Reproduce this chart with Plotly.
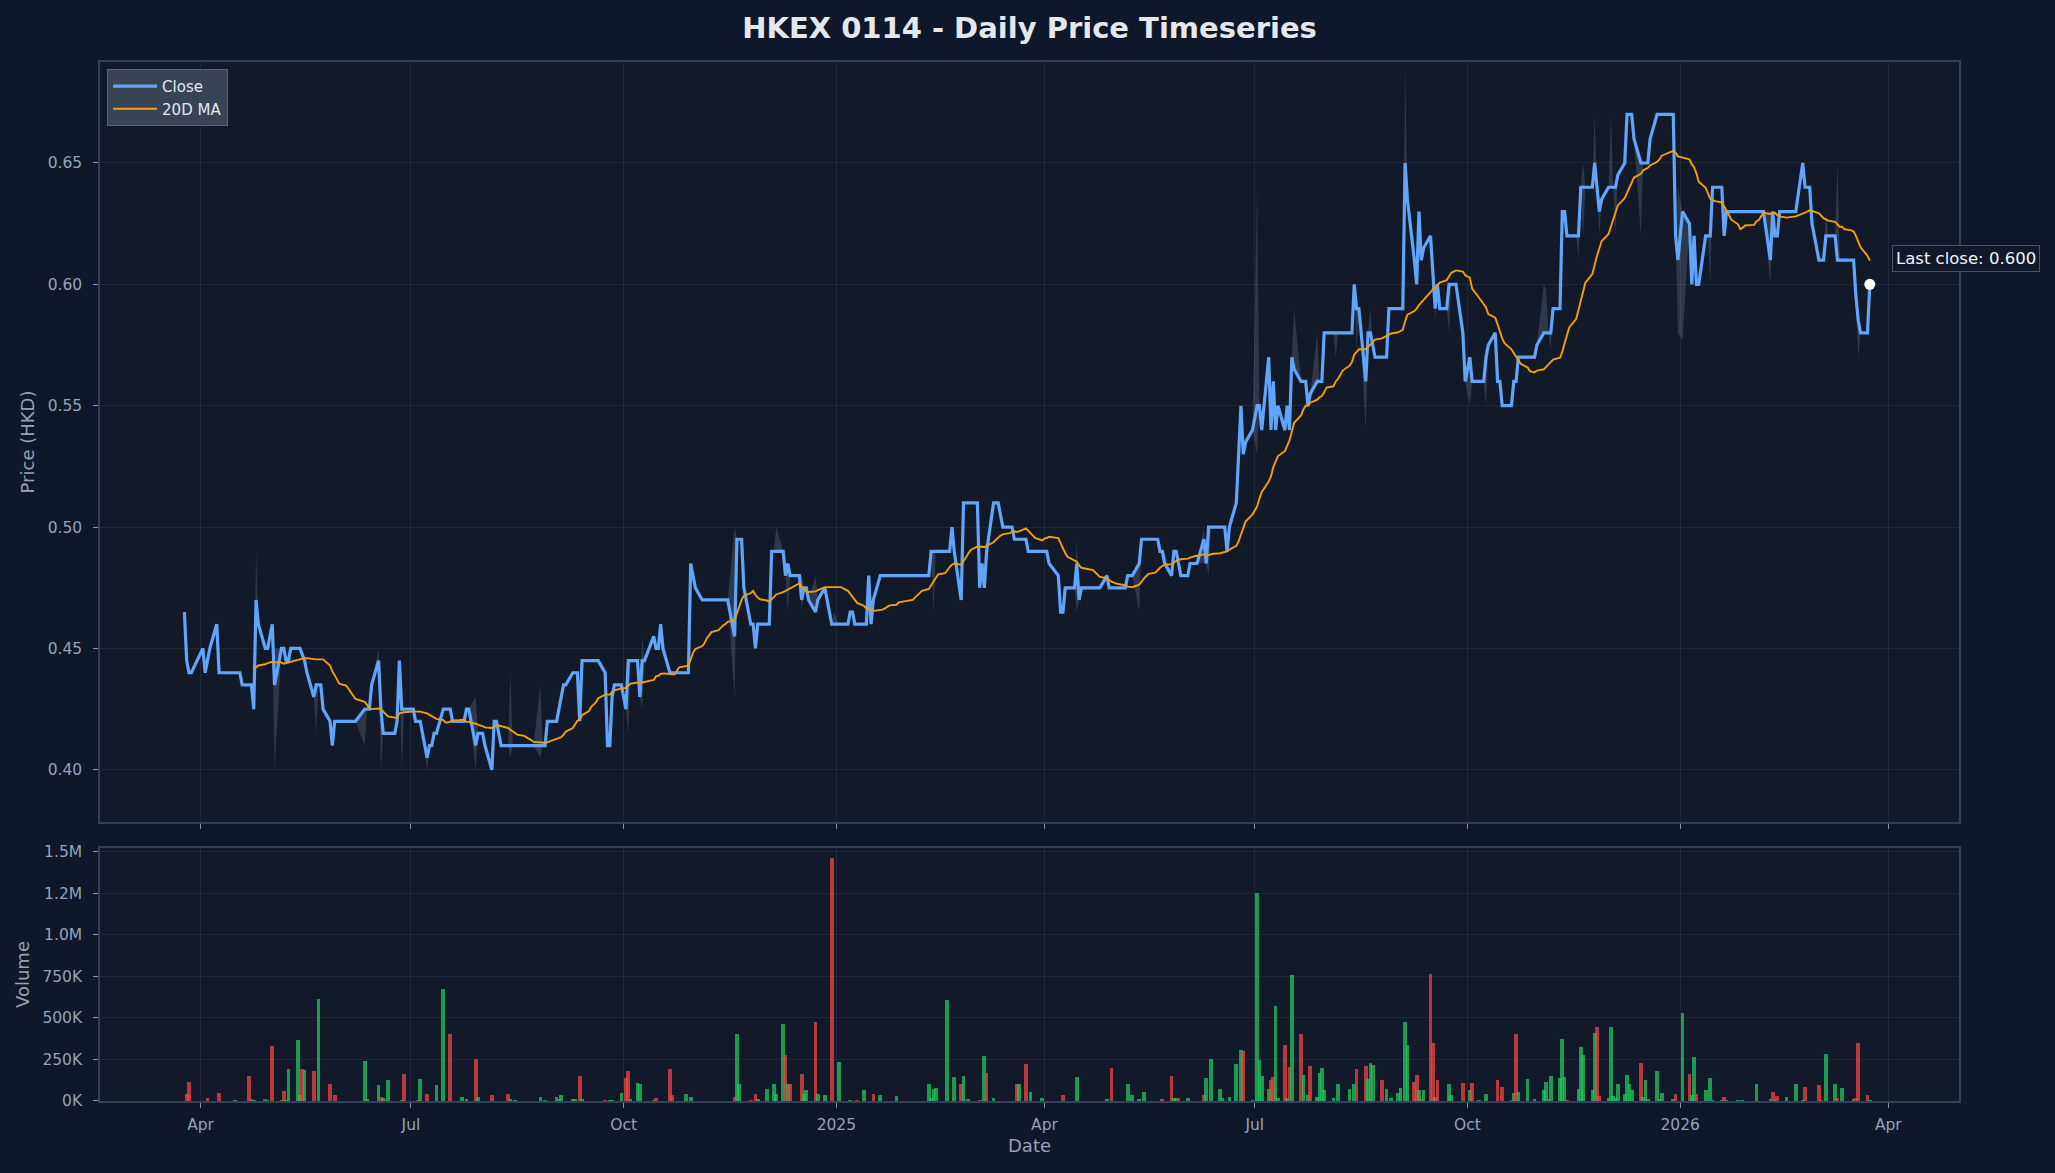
import pandas as pd
import numpy as np
import plotly.graph_objects as go

# ---------------- data ----------------
START_DATE = "2024-03-25"
END_DATE = "2026-03-24"

# exchange holidays (no trading rows)
HOLIDAYS = [
    "2024-03-29", "2024-04-01", "2024-04-04", "2024-05-01", "2024-05-15", "2024-06-10", "2024-07-01",
    "2024-09-18", "2024-10-01", "2024-10-11", "2024-12-25", "2024-12-26",
    "2025-01-01", "2025-01-29", "2025-01-30", "2025-01-31", "2025-04-04", "2025-04-18", "2025-04-21",
    "2025-05-01", "2025-05-05", "2025-07-01", "2025-10-01", "2025-10-07", "2025-10-29", "2025-12-25",
    "2025-12-26", "2026-01-01", "2026-02-17", "2026-02-18", "2026-02-19",
]

# days on which the close changed, and the new close (held until next change)
CLOSE_DATES = [
    "2024-03-25", "2024-03-26", "2024-03-27", "2024-04-02", "2024-04-03", "2024-04-05", "2024-04-08",
    "2024-04-09", "2024-04-19", "2024-04-24", "2024-04-25", "2024-04-26", "2024-04-29", "2024-05-02",
    "2024-05-03", "2024-05-06", "2024-05-08", "2024-05-10", "2024-05-15", "2024-05-17", "2024-05-20",
    "2024-05-21", "2024-05-24", "2024-05-27", "2024-05-28", "2024-05-29", "2024-06-11", "2024-06-14",
    "2024-06-17", "2024-06-18", "2024-06-19", "2024-06-25", "2024-06-26", "2024-06-27", "2024-07-03",
    "2024-07-08", "2024-07-09", "2024-07-11", "2024-07-15", "2024-07-19", "2024-07-25", "2024-07-29",
    "2024-07-30", "2024-08-02", "2024-08-05", "2024-08-06", "2024-08-08", "2024-08-09", "2024-08-29",
    "2024-09-03", "2024-09-04", "2024-09-05", "2024-09-09", "2024-09-12", "2024-09-13", "2024-09-23",
    "2024-09-24", "2024-09-26", "2024-09-27", "2024-10-02", "2024-10-03", "2024-10-08", "2024-10-09",
    "2024-10-11", "2024-10-14", "2024-10-15", "2024-10-17", "2024-10-18", "2024-10-21", "2024-10-30",
    "2024-10-31", "2024-11-01", "2024-11-04", "2024-11-18", "2024-11-19", "2024-11-22", "2024-11-25",
    "2024-11-27", "2024-11-28", "2024-12-04", "2024-12-10", "2024-12-11", "2024-12-12", "2024-12-17",
    "2024-12-18", "2024-12-20", "2024-12-23", "2024-12-24", "2024-12-27", "2024-12-30",
    "2025-01-07", "2025-01-09", "2025-01-15", "2025-01-16", "2025-01-17", "2025-01-20", "2025-02-11",
    "2025-02-20", "2025-02-21", "2025-02-24", "2025-02-25", "2025-03-04", "2025-03-05", "2025-03-06",
    "2025-03-07", "2025-03-10", "2025-03-13", "2025-03-14", "2025-03-19", "2025-03-25", "2025-04-03",
    "2025-04-07", "2025-04-08", "2025-04-10", "2025-04-15", "2025-04-16", "2025-04-17", "2025-04-28",
    "2025-04-29", "2025-05-07", "2025-05-12", "2025-05-13", "2025-05-21", "2025-05-23", "2025-05-26",
    "2025-05-27", "2025-05-29", "2025-05-30", "2025-06-03", "2025-06-09", "2025-06-10", "2025-06-11",
    "2025-06-19", "2025-06-20", "2025-06-23", "2025-06-24", "2025-06-25", "2025-06-26", "2025-06-27",
    "2025-06-30", "2025-07-02", "2025-07-04", "2025-07-07", "2025-07-08", "2025-07-09", "2025-07-10",
    "2025-07-11", "2025-07-14", "2025-07-15", "2025-07-16", "2025-07-17", "2025-07-18", "2025-07-21",
    "2025-07-24", "2025-07-25", "2025-07-28", "2025-07-31", "2025-08-13", "2025-08-14", "2025-08-18",
    "2025-08-19", "2025-08-21", "2025-08-22", "2025-08-28", "2025-09-04", "2025-09-05", "2025-09-08",
    "2025-09-09", "2025-09-10", "2025-09-11", "2025-09-12", "2025-09-15", "2025-09-16", "2025-09-17",
    "2025-09-18", "2025-09-19", "2025-09-23", "2025-09-29", "2025-09-30", "2025-10-02", "2025-10-03",
    "2025-10-09", "2025-10-10", "2025-10-13", "2025-10-14", "2025-10-16", "2025-10-21", "2025-10-23",
    "2025-10-31", "2025-11-03", "2025-11-07", "2025-11-11", "2025-11-13", "2025-11-19", "2025-11-25",
    "2025-11-26", "2025-11-27", "2025-11-28", "2025-12-01", "2025-12-05", "2025-12-08", "2025-12-09",
    "2025-12-12", "2025-12-15", "2025-12-19", "2025-12-22", "2025-12-30", "2025-12-31",
    "2026-01-02", "2026-01-05", "2026-01-06", "2026-01-07", "2026-01-08", "2026-01-12", "2026-01-15",
    "2026-01-20", "2026-01-21", "2026-02-09", "2026-02-10", "2026-02-11", "2026-02-13", "2026-02-23",
    "2026-02-24", "2026-02-27", "2026-03-02", "2026-03-05", "2026-03-10", "2026-03-18", "2026-03-19",
    "2026-03-20", "2026-03-24",
]
CLOSE_VALUES = [
    0.465, 0.445, 0.44, 0.45, 0.44, 0.45, 0.46,
    0.44, 0.435, 0.425, 0.47, 0.46, 0.45, 0.46,
    0.435, 0.45, 0.445, 0.45, 0.445, 0.44, 0.43,
    0.435, 0.425, 0.42, 0.41, 0.42, 0.425, 0.435,
    0.445, 0.425, 0.415, 0.42, 0.445, 0.425, 0.42,
    0.405, 0.41, 0.415, 0.425, 0.42, 0.425, 0.41,
    0.415, 0.41, 0.40, 0.42, 0.415, 0.41, 0.42,
    0.425, 0.43, 0.435, 0.44, 0.42, 0.445, 0.44,
    0.41, 0.43, 0.435, 0.425, 0.445, 0.43, 0.445,
    0.45, 0.455, 0.45, 0.46, 0.45, 0.44, 0.485,
    0.48, 0.475, 0.47, 0.455, 0.495, 0.475, 0.46,
    0.45, 0.46, 0.49, 0.48, 0.485, 0.48, 0.47,
    0.475, 0.47, 0.465, 0.47, 0.475, 0.46,
    0.465, 0.46, 0.48, 0.46, 0.47, 0.48, 0.49,
    0.50, 0.49, 0.47, 0.51, 0.475, 0.485, 0.475,
    0.49, 0.51, 0.505, 0.50, 0.495, 0.49, 0.485,
    0.48, 0.465, 0.475, 0.485, 0.47, 0.475, 0.48,
    0.475, 0.48, 0.485, 0.495, 0.49, 0.485, 0.48,
    0.49, 0.485, 0.48, 0.485, 0.495, 0.485, 0.50,
    0.49, 0.50, 0.51, 0.53, 0.55, 0.53, 0.535,
    0.54, 0.55, 0.54, 0.57, 0.54, 0.56, 0.54,
    0.55, 0.54, 0.55, 0.54, 0.57, 0.565, 0.56,
    0.55, 0.555, 0.56, 0.58, 0.60, 0.59, 0.56,
    0.58, 0.575, 0.57, 0.59, 0.65, 0.635, 0.61,
    0.60, 0.63, 0.61, 0.615, 0.62, 0.605, 0.59,
    0.60, 0.59, 0.60, 0.58, 0.56, 0.57, 0.56,
    0.57, 0.575, 0.58, 0.56, 0.55, 0.56, 0.57,
    0.575, 0.58, 0.59, 0.63, 0.62, 0.64, 0.65,
    0.64, 0.63, 0.635, 0.64, 0.645, 0.65, 0.67,
    0.66, 0.65, 0.66, 0.67, 0.62, 0.61,
    0.63, 0.625, 0.60, 0.62, 0.60, 0.62, 0.64,
    0.62, 0.63, 0.61, 0.63, 0.62, 0.63, 0.65,
    0.64, 0.625, 0.61, 0.62, 0.61, 0.595, 0.585,
    0.58, 0.60,
]

# intraday range spikes (days where low/high differ visibly from close)
BAND_DATES = [
    "2024-04-25", "2024-05-03", "2024-05-21", "2024-06-11", "2024-06-17", "2024-06-18", "2024-06-27",
    "2024-07-08", "2024-07-29", "2024-08-13", "2024-08-26", "2024-10-03", "2024-10-09", "2024-11-18",
    "2024-12-06", "2024-12-11", "2024-12-17", "2024-12-23", "2024-12-31", "2025-02-12", "2025-04-15",
    "2025-05-12", "2025-05-23", "2025-06-09", "2025-06-11", "2025-07-02", "2025-07-18", "2025-07-28",
    "2025-08-05", "2025-08-14", "2025-08-18", "2025-08-20", "2025-09-04", "2025-09-17", "2025-09-23",
    "2025-10-02", "2025-10-09", "2025-11-03", "2025-11-04", "2025-11-06", "2025-11-18", "2025-11-20",
    "2025-11-25", "2025-11-27", "2025-12-02", "2025-12-04", "2025-12-15", "2025-12-31", "2026-01-02",
    "2026-01-14", "2026-02-09", "2026-03-05", "2026-03-10", "2026-03-19",
]
BAND_LOW = [
    0.47, 0.40, 0.415, 0.41, 0.445, 0.40, 0.40,
    0.40, 0.40, 0.405, 0.405, 0.415, 0.425, 0.43,
    0.49, 0.465, 0.465, 0.465, 0.46, 0.465, 0.465,
    0.465, 0.485, 0.485, 0.48, 0.53, 0.565, 0.56,
    0.57, 0.573, 0.54, 0.58, 0.65, 0.585, 0.58,
    0.55, 0.55, 0.58, 0.58, 0.573, 0.61, 0.62,
    0.65, 0.62, 0.64, 0.62, 0.62, 0.58, 0.577,
    0.60, 0.60, 0.62, 0.61, 0.57,
]
BAND_HIGH = [
    0.49, 0.45, 0.435, 0.425, 0.45, 0.425, 0.425,
    0.405, 0.43, 0.44, 0.435, 0.425, 0.455, 0.50,
    0.50, 0.485, 0.48, 0.48, 0.465, 0.49, 0.495,
    0.485, 0.49, 0.50, 0.50, 0.64, 0.59, 0.58,
    0.58, 0.59, 0.56, 0.59, 0.69, 0.59, 0.60,
    0.57, 0.57, 0.60, 0.598, 0.58, 0.62, 0.65,
    0.67, 0.63, 0.67, 0.64, 0.65, 0.64, 0.63,
    0.62, 0.63, 0.63, 0.65, 0.585,
]

# daily volume (thousands of shares) and direction (1 = up/green, 0 = down/red)
VOL_DATES = [
    "2024-03-26", "2024-03-27", "2024-04-04", "2024-04-09", "2024-04-16", "2024-04-22", "2024-04-23",
    "2024-04-24", "2024-04-29", "2024-04-30", "2024-05-02", "2024-05-06", "2024-05-07", "2024-05-08",
    "2024-05-09", "2024-05-13", "2024-05-14", "2024-05-15", "2024-05-16", "2024-05-20", "2024-05-22",
    "2024-05-27", "2024-05-29", "2024-06-11", "2024-06-12", "2024-06-17", "2024-06-18", "2024-06-19",
    "2024-06-20", "2024-06-21", "2024-06-27", "2024-06-28", "2024-07-04", "2024-07-05", "2024-07-08",
    "2024-07-12", "2024-07-15", "2024-07-18", "2024-07-23", "2024-07-25", "2024-07-29", "2024-07-30",
    "2024-08-05", "2024-08-12", "2024-08-13", "2024-08-15", "2024-08-26", "2024-08-28", "2024-09-02",
    "2024-09-03", "2024-09-04", "2024-09-09", "2024-09-10", "2024-09-12", "2024-09-13", "2024-09-23",
    "2024-09-25", "2024-09-26", "2024-09-30", "2024-10-02", "2024-10-03", "2024-10-04", "2024-10-07",
    "2024-10-08", "2024-10-14", "2024-10-15", "2024-10-21", "2024-10-22", "2024-10-28", "2024-10-30",
    "2024-11-18", "2024-11-19", "2024-11-20", "2024-11-25", "2024-11-27", "2024-11-28", "2024-12-02",
    "2024-12-05", "2024-12-06", "2024-12-09", "2024-12-10", "2024-12-11", "2024-12-12", "2024-12-17",
    "2024-12-18", "2024-12-19", "2024-12-23", "2024-12-24", "2024-12-27", "2024-12-30",
    "2025-01-02", "2025-01-07", "2025-01-10", "2025-01-13", "2025-01-17", "2025-01-20", "2025-01-27",
    "2025-02-10", "2025-02-11", "2025-02-12", "2025-02-13", "2025-02-18", "2025-02-21", "2025-02-24",
    "2025-02-25", "2025-02-27", "2025-03-04", "2025-03-06", "2025-03-07", "2025-03-10", "2025-03-20",
    "2025-03-21", "2025-03-24", "2025-03-26", "2025-03-31", "2025-04-09", "2025-04-15", "2025-04-28",
    "2025-04-30", "2025-05-07", "2025-05-09", "2025-05-12", "2025-05-14", "2025-05-22", "2025-05-26",
    "2025-05-27", "2025-05-28", "2025-05-29", "2025-06-02", "2025-06-09", "2025-06-10", "2025-06-12",
    "2025-06-16", "2025-06-17", "2025-06-20", "2025-06-23", "2025-06-25", "2025-06-26", "2025-06-30",
    "2025-07-02", "2025-07-03", "2025-07-04", "2025-07-07", "2025-07-08", "2025-07-09", "2025-07-10",
    "2025-07-11", "2025-07-14", "2025-07-15", "2025-07-16", "2025-07-17", "2025-07-21", "2025-07-22",
    "2025-07-24", "2025-07-25", "2025-07-28", "2025-07-29", "2025-07-30", "2025-07-31", "2025-08-04",
    "2025-08-06", "2025-08-11", "2025-08-13", "2025-08-14", "2025-08-18", "2025-08-19", "2025-08-20",
    "2025-08-21", "2025-08-25", "2025-08-27", "2025-08-29", "2025-09-01", "2025-09-02", "2025-09-04",
    "2025-09-05", "2025-09-08", "2025-09-09", "2025-09-10", "2025-09-11", "2025-09-12", "2025-09-15",
    "2025-09-16", "2025-09-17", "2025-09-18", "2025-09-23", "2025-09-24", "2025-09-29", "2025-10-02",
    "2025-10-03", "2025-10-06", "2025-10-09", "2025-10-14", "2025-10-16", "2025-10-20", "2025-10-21",
    "2025-10-22", "2025-10-23", "2025-10-27", "2025-10-30", "2025-11-03", "2025-11-04", "2025-11-05",
    "2025-11-06", "2025-11-10", "2025-11-11", "2025-11-12", "2025-11-13", "2025-11-18", "2025-11-19",
    "2025-11-20", "2025-11-24", "2025-11-25", "2025-11-26", "2025-11-27", "2025-12-01", "2025-12-02",
    "2025-12-03", "2025-12-04", "2025-12-05", "2025-12-08", "2025-12-09", "2025-12-10", "2025-12-11",
    "2025-12-15", "2025-12-16", "2025-12-17", "2025-12-18", "2025-12-22", "2025-12-23", "2025-12-24",
    "2025-12-29", "2025-12-30", "2026-01-02", "2026-01-05", "2026-01-06", "2026-01-07", "2026-01-08",
    "2026-01-12", "2026-01-14", "2026-01-15", "2026-01-19", "2026-01-20", "2026-01-21", "2026-01-26",
    "2026-01-28", "2026-02-03", "2026-02-09", "2026-02-10", "2026-02-11", "2026-02-12", "2026-02-16",
    "2026-02-20", "2026-02-23", "2026-02-24", "2026-03-02", "2026-03-03", "2026-03-05", "2026-03-09",
    "2026-03-10", "2026-03-12", "2026-03-17", "2026-03-18", "2026-03-19", "2026-03-23", "2026-03-24",
]
VOL_K = [
    40, 110, 18, 49, 3, 146, 12,
    5, 12, 5, 329, 5, 61, 5,
    189, 366, 37, 189, 183, 177, 610,
    98, 37, 238, 12, 92, 24, 16,
    6, 122, 5, 159, 5, 128, 43,
    92, 671, 403, 24, 12, 250, 24,
    37, 43, 12, 3, 24, 3, 24,
    8, 37, 12, 12, 146, 12, 3,
    5, 5, 49, 134, 177, 12, 104,
    98, 5, 18, 189, 37, 43, 24,
    24, 403, 98, 3, 43, 12, 73,
    98, 43, 464, 274, 98, 98, 159,
    43, 67, 476, 43, 37, 1464,
    232, 6, 3, 67, 43, 37, 30,
    98, 18, 73, 79, 604, 140, 98,
    146, 12, 5, 268, 165, 18, 98,
    98, 220, 55, 18, 37, 140, 12,
    195, 98, 37, 12, 55, 12, 146,
    18, 18, 18, 18, 37, 134, 250,
    73, 18, 24, 220, 305, 299, 5,
    1250, 244, 146, 73, 122, 140, 573,
    18, 335, 18, 201, 756, 403, 152,
    37, 207, 24, 165, 195, 67, 18,
    98, 73, 98, 189, 207, 128, 226,
    213, 122, 73, 18, 49, 79, 476,
    335, 110, 152, 67, 12, 67, 762,
    348, 24, 122, 98, 37, 104, 67,
    104, 5, 43, 122, 85, 5, 49,
    403, 55, 128, 12, 67, 110, 12,
    146, 134, 372, 140, 5, 73, 323,
    274, 67, 409, 445, 30, 18, 445,
    30, 18, 98, 43, 152, 98, 67,
    226, 24, 122, 12, 177, 12, 49,
    12, 43, 525, 159, 37, 262, 43,
    67, 134, 5, 5, 24, 5, 5,
    5, 98, 12, 55, 5, 30, 24,
    98, 5, 85, 92, 5, 281, 98,
    18, 79, 12, 18, 348, 37, 5,
]
VOL_UP = [
    0, 0, 0, 0, 1, 0, 0,
    1, 0, 1, 0, 1, 0, 1,
    1, 1, 1, 0, 1, 0, 1,
    0, 0, 1, 1, 1, 0, 1,
    0, 1, 1, 0, 0, 1, 0,
    1, 1, 0, 1, 1, 0, 1,
    0, 0, 1, 1, 1, 1, 1,
    1, 1, 1, 1, 0, 1, 0,
    1, 1, 1, 0, 0, 1, 1,
    1, 1, 0, 0, 0, 1, 1,
    0, 1, 1, 0, 0, 1, 1,
    1, 1, 1, 0, 1, 0, 0,
    1, 1, 0, 1, 1, 0,
    1, 1, 0, 1, 0, 1, 1,
    1, 1, 1, 1, 1, 1, 0,
    1, 1, 0, 1, 0, 1, 0,
    1, 0, 1, 1, 0, 1, 1,
    0, 1, 1, 1, 1, 0, 0,
    1, 1, 0, 1, 0, 1, 1,
    1, 1, 1, 1, 1, 0, 1,
    1, 1, 1, 1, 0, 0, 1,
    1, 0, 1, 0, 1, 0, 1,
    1, 0, 1, 1, 1, 1, 1,
    1, 1, 1, 0, 0, 1, 1,
    1, 0, 1, 1, 1, 1, 1,
    1, 0, 0, 1, 0, 1, 0,
    0, 1, 0, 1, 1, 0, 1,
    0, 1, 1, 0, 0, 0, 1,
    0, 1, 1, 1, 1, 1, 1,
    1, 1, 1, 1, 0, 1, 1,
    1, 1, 1, 0, 0, 1, 1,
    1, 1, 1, 1, 1, 1, 1,
    0, 1, 1, 1, 1, 1, 1,
    1, 0, 1, 0, 1, 1, 0,
    1, 1, 1, 1, 0, 1, 1,
    1, 1, 1, 0, 1, 0, 1,
    1, 1, 0, 0, 0, 1, 1,
    0, 1, 1, 0, 0, 0, 1,
]

X_TICK_DATES = ["2024-04-01", "2024-07-01", "2024-10-01", "2025-01-01", "2025-04-01",
                "2025-07-01", "2025-10-01", "2026-01-01", "2026-04-01"]
X_TICK_TEXT = ["Apr", "Jul", "Oct", "2025", "Apr", "Jul", "Oct", "2026", "Apr"]
PRICE_TICKS = [0.40, 0.45, 0.50, 0.55, 0.60, 0.65]
VOL_TICKS = [0, 250000, 500000, 750000, 1000000, 1250000, 1500000]
VOL_TICK_TEXT = ["0K", "250K", "500K", "750K", "1.0M", "1.2M", "1.5M"]

# ---------------- derived series ----------------
days = pd.bdate_range(START_DATE, END_DATE, freq="C", holidays=HOLIDAYS)
close = (pd.Series(CLOSE_VALUES, index=pd.to_datetime(CLOSE_DATES))
         .reindex(days, method="ffill"))
ma20 = close.rolling(20).mean()

high = close.copy()
low = close.copy()
for d, lo, hi in zip(BAND_DATES, BAND_LOW, BAND_HIGH):
    pos = days.searchsorted(pd.Timestamp(d))
    pos = min(pos, len(days) - 1)
    high.iloc[pos] = max(hi, close.iloc[pos])
    low.iloc[pos] = min(lo, close.iloc[pos])

vol = np.array(VOL_K) * 1000
vol_colors = ["rgba(34,197,94,0.75)" if u else "rgba(239,68,68,0.75)" for u in VOL_UP]

# ---------------- styling ----------------
PAPER = "#0f172a"
PLOT = "#121a2a"
GRID = "rgba(148,163,184,0.10)"
SPINE = "#334155"
TICK = "#94a3b8"
FONT = "DejaVu Sans"
TICK_SIZE = 15.5
LABEL_SIZE = 18

fig = go.Figure()

fig.add_trace(go.Scatter(x=days, y=low, mode="lines", line=dict(width=0),
                         showlegend=False, hoverinfo="skip", xaxis="x", yaxis="y"))
fig.add_trace(go.Scatter(x=days, y=high, mode="lines", line=dict(width=0),
                         fill="tonexty", fillcolor="rgba(148,163,184,0.22)",
                         showlegend=False, hoverinfo="skip", xaxis="x", yaxis="y"))
fig.add_trace(go.Scatter(x=days, y=close, mode="lines", name="Close",
                         line=dict(color="#60a5fa", width=3.2), xaxis="x", yaxis="y"))
fig.add_trace(go.Scatter(x=days, y=ma20, mode="lines", name="20D MA",
                         line=dict(color="#f59e0b", width=1.9), xaxis="x", yaxis="y"))
fig.add_trace(go.Scatter(x=[days[-1]], y=[close.iloc[-1]], mode="markers",
                         marker=dict(color="white", size=11), showlegend=False,
                         xaxis="x", yaxis="y"))

fig.add_trace(go.Bar(x=pd.to_datetime(VOL_DATES), y=vol,
                     marker=dict(color=vol_colors, line=dict(width=0)),
                     width=1.6 * 86400000, showlegend=False, xaxis="x2", yaxis="y2"))

x_range = ["2024-02-17 12:00", "2026-05-01 14:00"]
common_x = dict(range=x_range, tickvals=X_TICK_DATES, ticktext=X_TICK_TEXT,
                showgrid=True, gridcolor=GRID, gridwidth=1,
                showline=True, linecolor=SPINE, linewidth=1.5, mirror=True,
                ticks="outside", ticklen=5, tickcolor="#8b95a7", tickwidth=1.2,
                ticklabelstandoff=4,
                tickfont=dict(family=FONT, size=TICK_SIZE, color=TICK), zeroline=False)
common_y = dict(showgrid=True, gridcolor=GRID, gridwidth=1,
                showline=True, linecolor=SPINE, linewidth=1.5, mirror=True,
                ticks="outside", ticklen=5, tickcolor="#8b95a7", tickwidth=1.2,
                ticklabelstandoff=8,
                tickfont=dict(family=FONT, size=TICK_SIZE, color=TICK), zeroline=False)

fig.update_layout(
    width=2055, height=1173,
    paper_bgcolor=PAPER, plot_bgcolor=PLOT,
    margin=dict(l=100, r=96, t=62, b=72),
    font=dict(family=FONT, color=TICK),
    title=dict(text="<b>HKEX 0114 - Daily Price Timeseries</b>", x=0.5, xref="paper",
               y=1 - 27.5 / 1173, yanchor="middle",
               font=dict(family=FONT, size=29, color="#e5e7eb")),
    bargap=0,
    xaxis=dict(domain=[0, 1], anchor="y", showticklabels=False, **common_x),
    xaxis2=dict(domain=[0, 1], anchor="y2", matches="x",
                title=dict(text="Date", font=dict(family=FONT, size=LABEL_SIZE, color=TICK), standoff=6),
                **common_x),
    yaxis=dict(domain=[0.2685, 1.0], anchor="x", range=[0.3785, 0.6916],
               tickvals=PRICE_TICKS, tickformat=".2f",
               title=dict(text="Price (HKD)", font=dict(family=FONT, size=LABEL_SIZE, color=TICK), standoff=8),
               **common_y),
    yaxis2=dict(domain=[0.0, 0.2435], anchor="x2", range=[-2000, 1521700],
                tickvals=VOL_TICKS, ticktext=VOL_TICK_TEXT,
                title=dict(text="Volume", font=dict(family=FONT, size=LABEL_SIZE, color=TICK), standoff=8),
                **common_y),
    legend=dict(x=0.0038, y=0.9933, xanchor="left", yanchor="top", traceorder="normal",
                bgcolor="rgba(60,70,88,0.92)", bordercolor="#5b6577", borderwidth=1,
                font=dict(family=FONT, size=15, color="#e5e7eb"),
                itemwidth=44, tracegroupgap=0),
    showlegend=True,
)

fig.add_annotation(x=days[-1], y=close.iloc[-1], xref="x", yref="y",
                   text=f"Last close: {close.iloc[-1]:.3f}", showarrow=False,
                   xanchor="left", yanchor="middle", xshift=22, yshift=26,
                   font=dict(family=FONT, size=16.5, color="#f1f5f9"),
                   bgcolor="#111827", bordercolor="#475569", borderwidth=1, borderpad=3)

fig.write_html("out.html")
